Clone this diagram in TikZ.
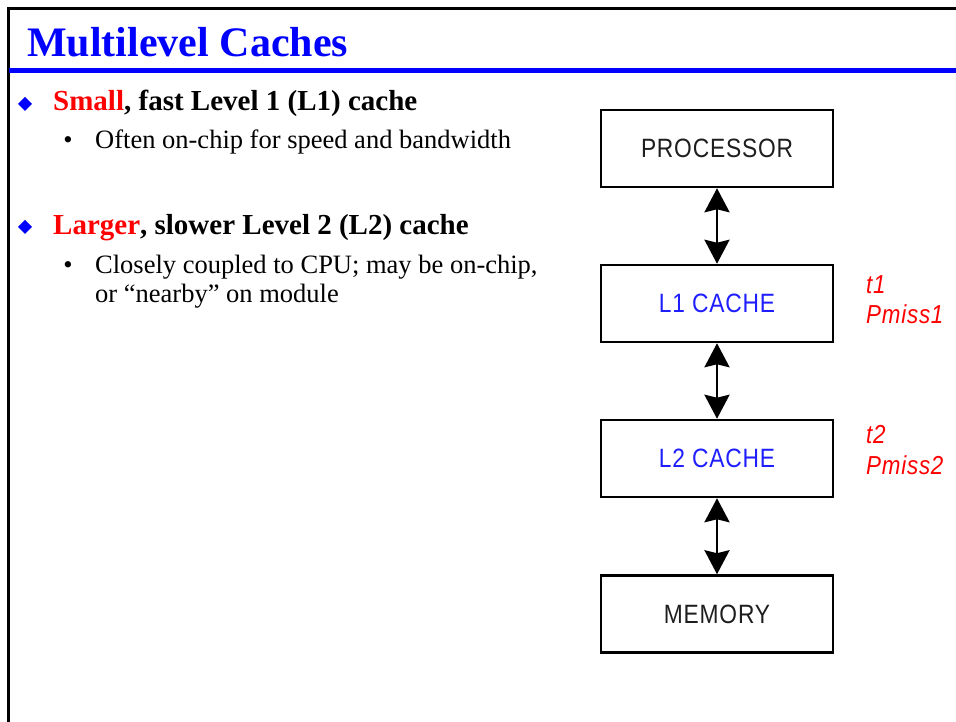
\documentclass[tikz,border=0pt]{standalone}
\usepackage{fontspec}
\setmainfont{Liberation Serif}
\newfontfamily\boxfont[FakeStretch=0.86,LetterSpace=3]{Liberation Sans}
\usetikzlibrary{arrows.meta}
\definecolor{titleblue}{RGB}{0,0,255}
\definecolor{capblue}{RGB}{30,30,255}
\definecolor{lblred}{RGB}{255,0,0}
\definecolor{boxtext}{RGB}{30,30,30}
\begin{document}
\begin{tikzpicture}[x=1pt,y=-1pt,
  txt/.style={anchor=base west,inner sep=0pt},
  headtxt/.style={txt,font=\fontsize{29}{34}\selectfont\bfseries},
  subtxt/.style={txt,font=\fontsize{26.5}{31}\selectfont},
  box/.style={draw,line width=2.5pt,minimum width=232pt,minimum height=77pt,inner sep=0pt,font=\boxfont\fontsize{26.5}{30}\selectfont},
  lbl/.style={txt,text=lblred,font=\boxfont\itshape\fontsize{26}{30}\selectfont},
  conn/.style={line width=2.8pt,{Stealth[length=24pt,width=25pt,inset=3pt]}-{Stealth[length=24pt,width=25pt,inset=3pt]}}]
\useasboundingbox (0,0) rectangle (956,722);
% frame
\draw[line width=3pt] (8.5,722) -- (8.5,8.5) -- (956,8.5);
\draw[titleblue,line width=5pt] (8.5,71) -- (956,71);
\node[txt,text=titleblue,font=\fontsize{42}{48}\selectfont\bfseries] (title) at (27,57) {Multilevel Caches};
% bullets
\fill[titleblue] (25,97) -- (32,104) -- (25,111) -- (18,104) -- cycle;
\node[headtxt] (h1) at (53,111) {\textcolor{lblred}{Small}, fast Level 1 (L1) cache};
\node[subtxt,anchor=base] (b1) at (68,149) {•};
\node[subtxt] (s1) at (95,149) {Often on-chip for speed and bandwidth};
\fill[titleblue] (25,220) -- (32,227) -- (25,234) -- (18,227) -- cycle;
\node[headtxt] (h2) at (53,235) {\textcolor{lblred}{Larger}, slower Level 2 (L2) cache};
\node[subtxt,anchor=base] (b2) at (68,273) {•};
\node[subtxt] (s2) at (95,273) {Closely coupled to CPU; may be on-chip,};
\node[subtxt] (s3) at (95,302) {or “nearby” on module};
% boxes
\node[box,text=boxtext] (proc) at (717,148.5) {PROCESSOR};
\node[box,text=capblue] (l1) at (717,303.5) {L1 CACHE};
\node[box,text=capblue] (l2) at (717,458.5) {L2 CACHE};
\node[box,text=boxtext] (mem) at (717,614) {MEMORY};
\draw[conn] (proc.south) -- (l1.north);
\draw[conn] (l1.south) -- (l2.north);
\draw[conn] (l2.south) -- (mem.north);
% labels
\node[lbl] (t1) at (866,293) {t1};
\node[lbl] (p1) at (866,323) {Pmiss1};
\node[lbl] (t2) at (866,443) {t2};
\node[lbl] (p2) at (866,474) {Pmiss2};
\end{tikzpicture}
\end{document}
